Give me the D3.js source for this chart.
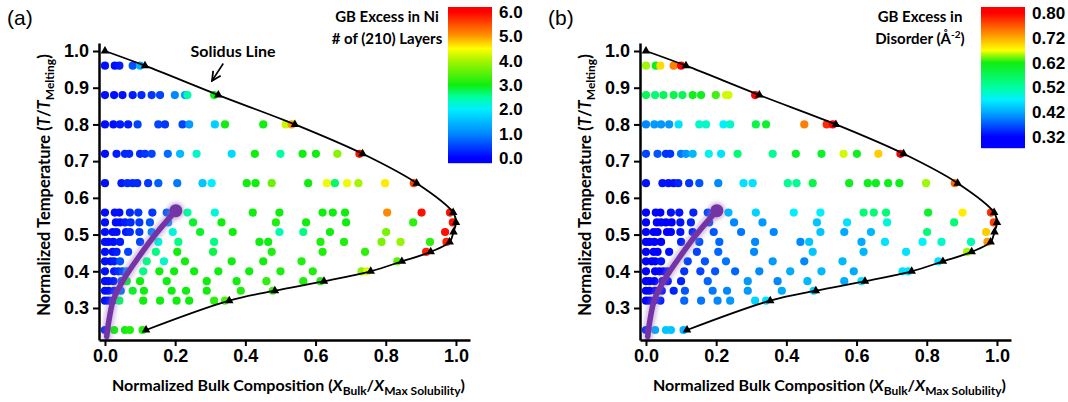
<!DOCTYPE html>
<html>
<head>
<meta charset="utf-8">
<script src="https://cdn.jsdelivr.net/npm/d3@7"></script>
<style>
  body { margin: 0; background: #fff; }
  svg text { font-family: "Liberation Sans", Arial, sans-serif; }
  .title { font-family: Lato, "Open Sans", sans-serif; font-weight: bold; }
</style>
</head>
<body>
<svg id="chart" width="1068" height="402"></svg>
<script>
// temperature rows (T / T_melting)
var temps = [0.24, 0.32, 0.347, 0.373, 0.40, 0.427, 0.453, 0.48, 0.507, 0.533, 0.56, 0.64, 0.72, 0.80, 0.88, 0.96];

// bulk compositions simulated at each temperature
var compRows = [
  [0, 0.026, 0.057, 0.071, 0.107],
  [0, 0.01, 0.022, 0.041, 0.109, 0.157, 0.204, 0.24, 0.311, 0.342],
  [0, 0.01, 0.026, 0.045, 0.079, 0.111, 0.19, 0.231, 0.29, 0.387, 0.478],
  [0, 0.01, 0.024, 0.047, 0.062, 0.10, 0.176, 0.29, 0.375, 0.46, 0.565, 0.614],
  [0, 0.026, 0.038, 0.05, 0.062, 0.109, 0.155, 0.197, 0.254, 0.323, 0.411, 0.50, 0.592, 0.731, 0.747],
  [0, 0.016, 0.026, 0.043, 0.119, 0.168, 0.228, 0.361, 0.451, 0.56, 0.833],
  [0, 0.022, 0.033, 0.066, 0.145, 0.206, 0.308, 0.475, 0.62, 0.741, 0.915],
  [0, 0.01, 0.024, 0.043, 0.10, 0.152, 0.209, 0.311, 0.44, 0.465, 0.614, 0.681, 0.788, 0.842, 0.926, 0.973],
  [0, 0.022, 0.033, 0.06, 0.071, 0.098, 0.133, 0.193, 0.271, 0.364, 0.497, 0.565, 0.641, 0.801, 0.969],
  [0, 0.031, 0.043, 0.057, 0.073, 0.098, 0.128, 0.18, 0.251, 0.332, 0.487, 0.573, 0.687, 0.878, 0.991],
  [0, 0.028, 0.041, 0.071, 0.095, 0.135, 0.176, 0.235, 0.313, 0.421, 0.497, 0.62, 0.649, 0.684, 0.804, 0.902, 0.983],
  [0, 0.047, 0.064, 0.079, 0.092, 0.123, 0.152, 0.206, 0.278, 0.304, 0.404, 0.429, 0.475, 0.579, 0.632, 0.655, 0.69, 0.722, 0.798, 0.88],
  [0, 0.033, 0.057, 0.069, 0.10, 0.114, 0.133, 0.179, 0.214, 0.261, 0.361, 0.427, 0.50, 0.563, 0.601, 0.662, 0.725],
  [0, 0.024, 0.043, 0.066, 0.093, 0.152, 0.171, 0.221, 0.24, 0.313, 0.342, 0.451, 0.515, 0.532],
  [0, 0.026, 0.05, 0.079, 0.104, 0.133, 0.157, 0.199, 0.228, 0.235, 0.311],
  [0, 0.028, 0.041, 0.079, 0.10]
];

// (a) GB excess in Ni, # of (210) layers
var excessNi = [
  [0.2, 3.0, 3.0, 3.1, 3.1],
  [0.1, 0.1, 0.3, 2.7, 3.0, 3.0, 3.0, 3.0, 3.2, 3.4],
  [0.1, 0.1, 0.2, 0.8, 2.9, 3.0, 3.0, 3.0, 3.0, 3.1, 3.3],
  [0.1, 0.1, 0.2, 0.6, 2.9, 3.0, 3.0, 3.0, 3.0, 3.2, 3.1, 3.1],
  [0.1, 0.2, 0.3, 0.5, 1.0, 2.6, 3.0, 3.0, 3.0, 3.0, 3.0, 3.1, 3.1, 3.8, 4.3],
  [0.1, 0.1, 0.2, 0.6, 2.6, 2.3, 3.0, 3.0, 3.0, 3.1, 3.5],
  [0.1, 0.1, 0.2, 0.5, 2.6, 3.0, 2.8, 3.1, 3.1, 3.2, 5.8],
  [0.1, 0.1, 0.1, 0.2, 0.5, 2.2, 2.6, 2.6, 3.0, 3.0, 3.1, 3.1, 3.7, 3.9, 3.2, 5.8],
  [0.1, 0.1, 0.1, 0.2, 0.3, 0.4, 1.0, 2.2, 2.9, 3.0, 2.4, 2.6, 3.0, 3.7, 5.9],
  [0.1, 0.1, 0.1, 0.2, 0.3, 0.4, 0.6, 1.2, 2.9, 3.0, 3.1, 3.0, 3.0, 3.2, 5.9],
  [0.1, 0.1, 0.1, 0.3, 0.4, 0.4, 0.7, 2.5, 2.2, 3.0, 3.0, 3.0, 3.0, 3.0, 5.1, 5.9, 5.9],
  [0.1, 0.2, 0.3, 0.3, 0.3, 0.4, 0.7, 0.9, 1.6, 2.0, 3.0, 3.0, 3.6, 3.0, 4.4, 2.7, 4.4, 4.0, 4.6, 5.6],
  [0.1, 0.2, 0.3, 0.3, 0.3, 0.4, 0.5, 0.8, 1.5, 2.3, 1.8, 3.0, 2.5, 3.0, 3.0, 3.8, 5.9],
  [0.1, 0.1, 0.2, 0.2, 0.5, 0.5, 0.4, 0.5, 1.2, 1.7, 3.0, 3.0, 4.2, 5.0],
  [0.1, 0.1, 0.1, 0.2, 0.3, 0.4, 0.5, 1.0, 1.2, 2.4, 3.0],
  [0.1, 0.1, 0.2, 0.6, 1.4]
];

// (b) GB excess in disorder (1/A^2)
var excessDisorder = [
  [0.34, 0.42, 0.44, 0.44, 0.43],
  [0.32, 0.32, 0.32, 0.34, 0.38, 0.39, 0.40, 0.41, 0.45, 0.46],
  [0.32, 0.32, 0.32, 0.33, 0.34, 0.37, 0.39, 0.40, 0.41, 0.42, 0.45],
  [0.32, 0.32, 0.32, 0.33, 0.33, 0.34, 0.38, 0.41, 0.40, 0.43, 0.42, 0.46],
  [0.32, 0.32, 0.32, 0.32, 0.33, 0.35, 0.36, 0.37, 0.38, 0.40, 0.42, 0.43, 0.42, 0.46, 0.46],
  [0.32, 0.32, 0.32, 0.33, 0.36, 0.37, 0.39, 0.41, 0.40, 0.43, 0.46],
  [0.32, 0.32, 0.32, 0.33, 0.36, 0.38, 0.40, 0.44, 0.43, 0.46, 0.65],
  [0.32, 0.32, 0.32, 0.32, 0.34, 0.37, 0.38, 0.40, 0.40, 0.44, 0.42, 0.46, 0.47, 0.50, 0.51, 0.73],
  [0.32, 0.32, 0.32, 0.32, 0.32, 0.33, 0.34, 0.37, 0.39, 0.40, 0.44, 0.42, 0.43, 0.55, 0.70],
  [0.32, 0.32, 0.32, 0.32, 0.32, 0.33, 0.34, 0.37, 0.40, 0.41, 0.44, 0.46, 0.49, 0.55, 0.77],
  [0.32, 0.32, 0.32, 0.33, 0.33, 0.34, 0.36, 0.43, 0.45, 0.47, 0.47, 0.55, 0.55, 0.55, 0.60, 0.68, 0.78],
  [0.33, 0.33, 0.33, 0.33, 0.34, 0.35, 0.37, 0.40, 0.46, 0.46, 0.53, 0.53, 0.58, 0.61, 0.61, 0.61, 0.61, 0.61, 0.65, 0.75],
  [0.36, 0.37, 0.35, 0.35, 0.39, 0.41, 0.43, 0.48, 0.46, 0.55, 0.53, 0.60, 0.60, 0.66, 0.61, 0.70, 0.80],
  [0.40, 0.41, 0.41, 0.41, 0.46, 0.50, 0.50, 0.47, 0.50, 0.58, 0.60, 0.74, 0.78, 0.80],
  [0.57, 0.55, 0.57, 0.58, 0.57, 0.61, 0.61, 0.63, 0.66, 0.66, 0.80],
  [0.65, 0.61, 0.69, 0.74, 0.80]
];

// solidus line
var solidusComp = [0.0, 0.114, 0.323, 0.541, 0.734, 0.888, 0.992, 1.0, 0.993, 0.982, 0.928, 0.846, 0.757, 0.624, 0.484, 0.354, 0.117];
var solidusTemp = [1.0, 0.96, 0.88, 0.80, 0.72, 0.64, 0.56, 0.533, 0.507, 0.48, 0.453, 0.427, 0.40, 0.373, 0.347, 0.32, 0.24];

// purple guide curve
var trendComp = [0.005, 0.012, 0.024, 0.052, 0.10, 0.147, 0.202];
var trendTemp = [0.222, 0.27, 0.322, 0.376, 0.444, 0.504, 0.565];

var xTicks = [0, 0.2, 0.4, 0.6, 0.8, 1.0];
var yTicks = [0.3, 0.4, 0.5, 0.6, 0.7, 0.8, 0.9, 1.0];
var niTicks = [0, 1, 2, 3, 4, 5, 6];
var disorderTicks = [0.32, 0.42, 0.52, 0.62, 0.72, 0.80];

var points = [];
temps.forEach(function(t, i) {
  compRows[i].forEach(function(c, j) {
    points.push({t: t, x: c, ni: excessNi[i][j], dis: excessDisorder[i][j]});
  });
});

var colorNi = d3.scaleLinear()
  .domain([0, 1, 2, 2.5, 3, 4, 4.5, 5, 6])
  .range(["#0000ff", "#0088ff", "#00eeff", "#00ffa0", "#10ee10", "#a6f500", "#ffff00", "#ff9900", "#ff0000"])
  .clamp(true);

var colorDis = d3.scaleLinear()
  .domain([0.32, 0.42, 0.47, 0.52, 0.62, 0.67, 0.72, 0.80])
  .range(["#0000ff", "#00aaff", "#00f0ff", "#00ffa0", "#10ee10", "#ffff00", "#ffaa00", "#ff0000"])
  .clamp(true);

var svg = d3.select("#chart");

var defs = svg.append("defs");
defs.append("filter").attr("id", "glow")
  .attr("x", "-50%").attr("y", "-50%").attr("width", "200%").attr("height", "200%")
  .append("feGaussianBlur").attr("stdDeviation", 2);
defs.append("marker").attr("id", "arrow")
  .attr("viewBox", "0 0 10 10").attr("refX", 9).attr("refY", 5)
  .attr("markerWidth", 7).attr("markerHeight", 7).attr("orient", "auto")
  .append("path").attr("d", "M1,1 L9,5 L1,9").attr("fill", "none")
  .attr("stroke", "#000").attr("stroke-width", 1.6);

var yScale = d3.scaleLinear().domain([0.2128, 1.0218]).range([340, 43]);

function drawPanel(p) {
  var xScale = d3.scaleLinear().domain([-0.017, 1.04]).range([p.x0, p.x1]);
  var g = svg.append("g");

  // dots
  g.append("g").selectAll("circle")
    .data(points)
    .enter()
    .append("circle")
    .attr("cx", d => xScale(d.x))
    .attr("cy", d => yScale(d.t))
    .attr("r", 4.1)
    .attr("fill", d => p.color(d[p.key]));

  // purple guide curve
  var trend = trendComp.map((c, i) => [c, trendTemp[i]]);
  var trendLine = d3.line()
    .x(d => xScale(d[0]))
    .y(d => yScale(d[1]))
    .curve(d3.curveCatmullRom);
  var last = trend[trend.length - 1];
  g.append("path").attr("d", trendLine(trend))
    .attr("fill", "none").attr("stroke", "#9a6cc0").attr("stroke-width", 10)
    .attr("stroke-linecap", "round").attr("opacity", 0.45).attr("filter", "url(#glow)");
  g.append("circle").attr("cx", xScale(last[0])).attr("cy", yScale(last[1])).attr("r", 8.5)
    .attr("fill", "#9a6cc0").attr("opacity", 0.45).attr("filter", "url(#glow)");
  g.append("path").attr("d", trendLine(trend))
    .attr("fill", "none").attr("stroke", "#7434a6").attr("stroke-width", 5.5)
    .attr("stroke-linecap", "round");
  g.append("circle").attr("cx", xScale(last[0])).attr("cy", yScale(last[1])).attr("r", 6.5)
    .attr("fill", "#7434a6");

  // solidus line + markers
  var solidus = solidusComp.map((c, i) => [c, solidusTemp[i]]);
  g.append("path")
    .attr("d", d3.line().x(d => xScale(d[0])).y(d => yScale(d[1])).curve(d3.curveCatmullRom)(solidus))
    .attr("fill", "none").attr("stroke", "#000").attr("stroke-width", 1.8);
  g.append("g").selectAll("path")
    .data(solidus)
    .enter()
    .append("path")
    .attr("d", d3.symbol().type(d3.symbolTriangle).size(32))
    .attr("transform", d => `translate(${xScale(d[0])}, ${yScale(d[1])})`)
    .attr("fill", "#000");

  // axes
  var xAxis = g.append("g")
    .attr("transform", "translate(0, 340)")
    .call(d3.axisBottom(xScale).tickValues(xTicks).tickFormat(d3.format(".1f")).tickSize(6).tickSizeOuter(0).tickPadding(3));
  var yAxis = g.append("g")
    .attr("transform", `translate(${p.x0}, 0)`)
    .call(d3.axisLeft(yScale).tickValues(yTicks).tickFormat(d3.format(".1f")).tickSize(6).tickSizeOuter(0).tickPadding(4));
  [xAxis, yAxis].forEach(function(a) {
    a.select(".domain").attr("stroke-width", 2.5);
    a.selectAll(".tick line").attr("stroke-width", 2);
    a.selectAll(".tick text").style("font-size", "18px").style("font-weight", "bold").attr("fill", "#000");
  });

  // x axis title
  var xt = g.append("text").attr("class", "title")
    .attr("text-anchor", "middle")
    .attr("x", (xScale(0) + xScale(1)) / 2 + 8)
    .attr("y", 391)
    .style("font-size", "16px");
  xt.append("tspan").text("Normalized Bulk Composition (");
  xt.append("tspan").style("font-style", "italic").text("X");
  xt.append("tspan").attr("dy", 4).style("font-size", "12px").text("Bulk");
  xt.append("tspan").attr("dy", -4).text("/");
  xt.append("tspan").style("font-style", "italic").text("X");
  xt.append("tspan").attr("dy", 4).style("font-size", "12px").text("Max Solubility");
  xt.append("tspan").attr("dy", -4).text(")");

  // y axis title
  var yt = g.append("text").attr("class", "title")
    .attr("text-anchor", "middle")
    .attr("transform", `translate(${p.x0 - 49}, 185) rotate(-90)`)
    .style("font-size", "16.5px");
  yt.append("tspan").text("Normalized Temperature (");
  yt.append("tspan").style("font-style", "italic").text("T");
  yt.append("tspan").text("/");
  yt.append("tspan").style("font-style", "italic").text("T");
  yt.append("tspan").attr("dy", 4).style("font-size", "12px").text("Melting");
  yt.append("tspan").attr("dy", -4).text(")");

  // panel letter
  g.append("text").attr("x", p.x0 - 92).attr("y", 25)
    .style("font-size", "21px").text(p.letter);

  // colorbar
  var bar = g.append("g");
  var y0 = p.barTop, y1 = p.barBottom;
  for (var yy = y0; yy < y1; yy++) {
    bar.append("rect")
      .attr("x", p.barX).attr("y", yy)
      .attr("width", 44).attr("height", 1.2)
      .attr("fill", p.color(p.barScale.invert(yy + 0.5)));
  }
  var barAxis = bar.append("g")
    .attr("transform", `translate(${p.barX + 44}, 0)`)
    .call(d3.axisRight(p.barScale).tickValues(p.barTicks).tickFormat(d3.format(p.barFormat)).tickSize(0).tickPadding(7));
  barAxis.select(".domain").remove();
  barAxis.selectAll(".tick text").style("font-size", "17px").style("font-weight", "bold").attr("fill", "#000");

  // colorbar title
  var ct = g.append("text").attr("class", "title")
    .attr("text-anchor", "middle").style("font-size", "15px");
  ct.append("tspan").attr("x", p.barTitleX).attr("y", 22).text(p.barTitle[0]);
  ct.append("tspan").attr("x", p.barTitleX).attr("y", 44).text(p.barTitle[1]);
  if (p.barSup) {
    ct.append("tspan").attr("dy", -6).style("font-size", "10px").text(p.barSup);
    ct.append("tspan").attr("dy", 6).text(")");
  }

  return {g: g, xScale: xScale};
}

var panelA = drawPanel({
  letter: "(a)", x0: 99, x1: 470, key: "ni", color: colorNi,
  barX: 448, barTop: 7, barBottom: 163,
  barScale: d3.scaleLinear().domain([0, 6]).range([158, 12]),
  barTicks: niTicks, barFormat: ".1f",
  barTitleX: 387, barTitle: ["GB Excess in Ni", "# of (210) Layers"]
});

var panelB = drawPanel({
  letter: "(b)", x0: 640, x1: 1011, key: "dis", color: colorDis,
  barX: 981, barTop: 7, barBottom: 148,
  barScale: d3.scaleLinear().domain(disorderTicks).range([137, 112.2, 87.4, 62.6, 37.8, 13]),
  barTicks: disorderTicks, barFormat: ".2f",
  barTitleX: 920, barTitle: ["GB Excess in", "Disorder (\u00c5"], barSup: "-2"
});

// "Solidus Line" annotation in panel (a)
var xa = panelA.xScale;
panelA.g.append("text").attr("class", "title")
  .attr("x", xa(0.365)).attr("y", yScale(1.0) + 6)
  .attr("text-anchor", "middle").style("font-size", "16px")
  .text("Solidus Line");
panelA.g.append("line")
  .attr("x1", xa(0.337)).attr("y1", yScale(0.966))
  .attr("x2", xa(0.305)).attr("y2", yScale(0.919))
  .attr("stroke", "#000").attr("stroke-width", 1.6)
  .attr("marker-end", "url(#arrow)");
</script>
</body>
</html>
